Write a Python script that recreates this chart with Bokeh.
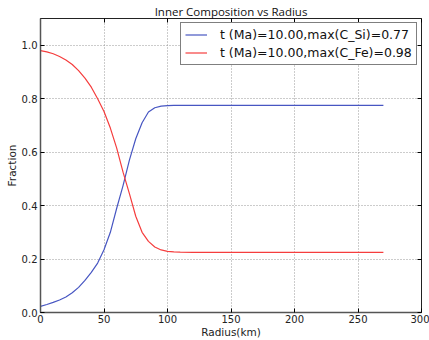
from bokeh.plotting import figure
from bokeh.models import (FixedTicker, LinearAxis, Range1d, Legend, LegendItem,
                          NumeralTickFormatter, ColumnDataSource, CustomJSTickFormatter)
from bokeh.embed import file_html
from bokeh.resources import INLINE

radius = [0, 5, 10, 15, 20, 25, 30, 35, 40, 45, 50, 55, 60, 65, 70, 75, 80, 85, 90, 95,
          100, 105, 110, 120, 150, 200, 250, 270]
c_fe = [0.980, 0.975, 0.968, 0.958, 0.945, 0.928, 0.905, 0.877, 0.843, 0.800, 0.752, 0.690,
        0.615, 0.525, 0.445, 0.360, 0.300, 0.266, 0.245, 0.234, 0.229, 0.227, 0.226, 0.225,
        0.225, 0.225, 0.225, 0.225]
c_si = [0.023, 0.030, 0.038, 0.047, 0.058, 0.074, 0.094, 0.120, 0.150, 0.185, 0.235, 0.300,
        0.390, 0.475, 0.570, 0.650, 0.710, 0.750, 0.766, 0.772, 0.774, 0.775, 0.775, 0.775,
        0.775, 0.775, 0.775, 0.775]
x_ticks = [0, 50, 100, 150, 200, 250, 300]
y_ticks = [0.0, 0.2, 0.4, 0.6, 0.8, 1.0]
title_text = "Inner Composition vs Radius"
label_si = "t (Ma)=10.00,max(C_Si)=0.77"
label_fe = "t (Ma)=10.00,max(C_Fe)=0.98"

FONT = "DejaVu Sans"

p = figure(width=429, height=340, output_backend="svg", toolbar_location=None,
           x_range=Range1d(0, 300), y_range=Range1d(0, 1.1), title=title_text,
           min_border_left=40, min_border_right=8, min_border_top=18, min_border_bottom=26)
p.background_fill_color = "white"
p.border_fill_color = "white"
p.outline_line_color = "#222222"
p.outline_line_width = 1

p.title.text_font = "Open Sans"
p.title.text_font_size = "11.5px"
p.title.text_font_style = "normal"
p.title.text_color = "#111111"
p.title.align = "center"
p.title.standoff = 0
p.title.offset = -4

src = ColumnDataSource(dict(r=radius, si=c_si, fe=c_fe))
r_si = p.line("r", "si", source=src, line_color="#4756c2", line_width=1.2)
r_fe = p.line("r", "fe", source=src, line_color="#f53d3d", line_width=1.2)

xa = p.xaxis[0]
ya = p.yaxis[0]
xa.ticker = FixedTicker(ticks=x_ticks)
ya.ticker = FixedTicker(ticks=y_ticks)
ya.formatter = NumeralTickFormatter(format="0.0")
for ax in (xa, ya):
    ax.major_tick_in = 4
    ax.major_tick_out = 0
    ax.minor_tick_line_color = None
    ax.axis_line_color = "#555555"
    ax.axis_line_width = 1.5
    ax.major_label_text_font = FONT
    ax.major_label_text_font_size = "10px"
    ax.major_label_text_color = "#222222"
    ax.axis_label_text_font = FONT
    ax.axis_label_text_font_size = "10.5px"
    ax.axis_label_text_font_style = "normal"
    ax.axis_label_text_color = "#222222"
    ax.major_label_standoff = 3
    ax.axis_label_standoff = 1
xa.major_label_standoff = 2
xa.axis_label_standoff = 0
xa.axis_label = "Radius(km)"
ya.axis_label = "Fraction"

blank = CustomJSTickFormatter(code="return ''")
for loc, tk in (("right", y_ticks), ("above", x_ticks)):
    ax = LinearAxis(ticker=FixedTicker(ticks=tk), formatter=blank,
                    major_tick_in=4, major_tick_out=0, minor_tick_line_color=None,
                    axis_line_color=None, major_label_standoff=0)
    p.add_layout(ax, loc)

p.xgrid.ticker = FixedTicker(ticks=x_ticks)
p.ygrid.ticker = FixedTicker(ticks=y_ticks)
for g in (p.xgrid, p.ygrid):
    g.grid_line_color = "#999999"
    g.grid_line_dash = "1 2"
    g.grid_line_width = 1

legend = Legend(items=[LegendItem(label=label_si, renderers=[r_si]),
                       LegendItem(label=label_fe, renderers=[r_fe])],
                location="top_right")
legend.label_text_font = FONT
legend.label_text_font_size = "12.5px"
legend.label_text_color = "#111111"
legend.border_line_color = "black"
legend.border_line_width = 1
legend.margin = 4
legend.padding = 4
legend.spacing = 3
legend.glyph_width = 22
legend.label_standoff = 13
legend.label_height = 15
legend.glyph_height = 15
legend.label_width = 192
legend.background_fill_alpha = 1
p.add_layout(legend, "center")

open("out.html", "w").write(file_html(p, INLINE))
